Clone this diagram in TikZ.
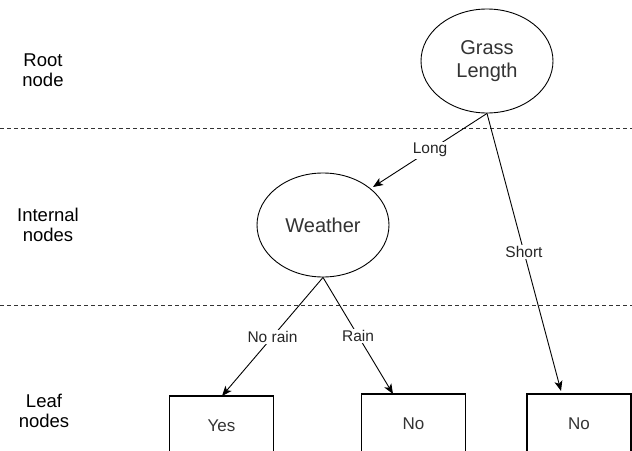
\documentclass[tikz,border=0pt]{standalone}
\usepackage{fontspec}
\setmainfont{Liberation Sans}
\usetikzlibrary{arrows.meta,shapes.geometric}
\tikzset{
  circnode/.style={draw=black, line width=0.9pt, ellipse, minimum width=132pt, minimum height=104pt, inner sep=0pt, align=center, text=black!80, font=\fontsize{20}{23}\selectfont},
  leafbox/.style={draw=black, line width=1.1pt, rectangle, minimum width=104pt, minimum height=60pt, inner sep=0pt, text=black!80, font=\fontsize{17}{20}\selectfont},
  sidelabel/.style={align=center, text=black, font=\fontsize{18.5}{20}\selectfont},
  edgelabel/.style={fill=white, inner sep=1.5pt, text=black!85, font=\fontsize{15.5}{18}\selectfont},
  edge/.style={draw=black, line width=0.9pt, -{Stealth[length=10pt, width=8pt, inset=2.5pt]}},
  divider/.style={draw=black!80, line width=0.9pt, dash pattern=on 4pt off 3pt}
}
\begin{document}
\begin{tikzpicture}[x=1pt, y={(0pt,-1pt)}]
\useasboundingbox (0,0) rectangle (632,450);
\clip (0,0) rectangle (632,450);
\fill[white] (0,0) rectangle (632,450);

% dividers
\coordinate (d1a) at (0,128);
\coordinate (d1b) at (632,128);
\coordinate (d2a) at (0,305);
\coordinate (d2b) at (632,305);
\draw[divider] (d1a) -- (d1b);
\draw[divider] (d2a) -- (d2b);

% side labels
\node[sidelabel] (root) at (43,70) {Root\\node};
\node[sidelabel] (internal) at (48,225) {Internal\\nodes};
\node[sidelabel] (leaf) at (44,411) {Leaf\\nodes};

% tree nodes
\node[circnode] (grass) at (487,61) {Grass\\Length};
\node[circnode] (weather) at (323,225) {Weather};
\node[leafbox] (yes) at (221.5,426) {Yes};
\node[leafbox] (no1) at (413.5,424) {No};
\node[leafbox] (no2) at (579,424) {No};

% arrow tips
\coordinate (tlong) at (373,187);
\coordinate (train) at (393,394);
\coordinate (tshort) at (561,391);
\coordinate (tnorain) at (222,396);

% edges
\draw[edge] (grass.south) -- node[edgelabel] (lLong) {Long} (tlong);
\draw[edge] (grass.south) -- node[edgelabel] (lShort) {Short} (tshort);
\draw[edge] (weather.south) -- node[edgelabel] (lNoRain) {No rain} (tnorain);
\draw[edge] (weather.south) -- node[edgelabel] (lRain) {Rain} (train);
\end{tikzpicture}
\end{document}
